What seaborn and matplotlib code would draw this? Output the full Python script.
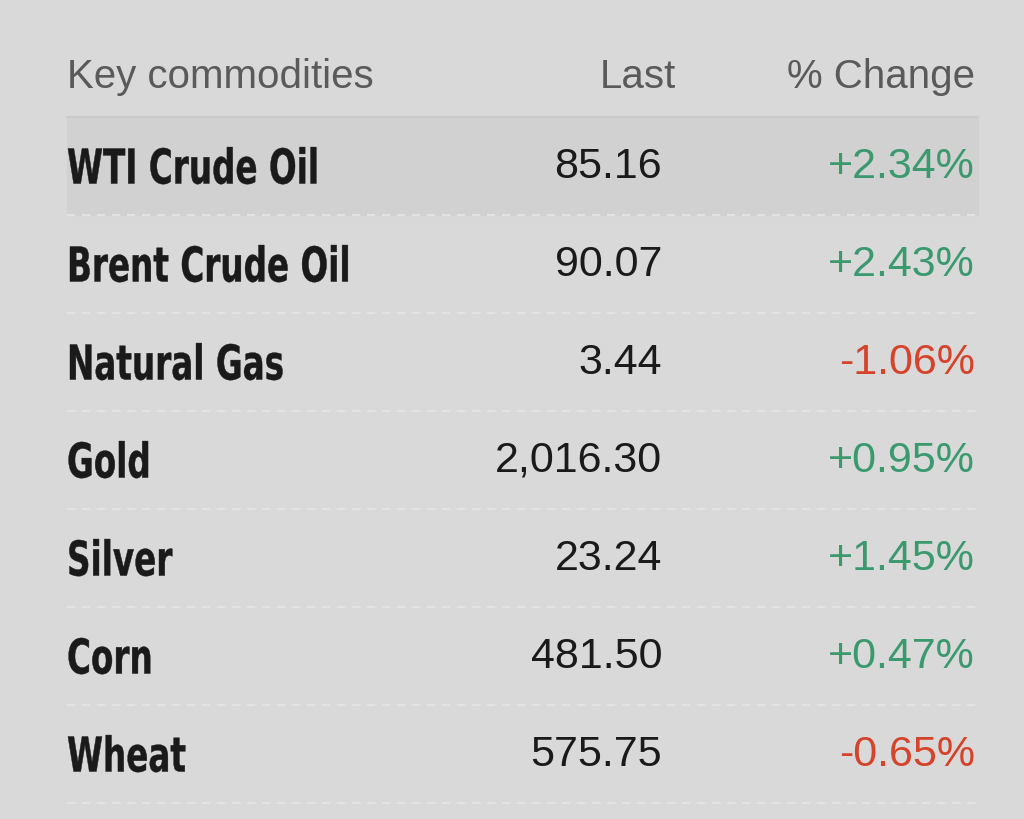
import matplotlib
matplotlib.use("Agg")
import matplotlib.pyplot as plt
import seaborn as sns
from matplotlib.textpath import TextPath
from matplotlib.patches import PathPatch
from matplotlib.font_manager import FontProperties
from matplotlib.transforms import Affine2D

# Table data
commodities = ["WTI Crude Oil", "Brent Crude Oil", "Natural Gas", "Gold", "Silver", "Corn", "Wheat"]
last_values = [85.16, 90.07, 3.44, 2016.30, 23.24, 481.50, 575.75]
pct_change = [2.34, 2.43, -1.06, 0.95, 1.45, 0.47, -0.65]
headers = ["Key commodities", "Last", "% Change"]

sns.set_theme(style="white")
plt.rcParams["font.family"] = ["Liberation Sans", "DejaVu Sans"]

bg = "#d9d9d9"
fig = plt.figure(figsize=(10.24, 8.2), dpi=100, facecolor=bg)
ax = fig.add_axes([0, 0, 1, 1])
ax.set_facecolor(bg)
ax.set_xlim(0, 1024)
ax.set_ylim(820, 0)
ax.axis("off")

left, x_last, x_chg, right = 67, 662, 975, 978
header_y, row0, step = 77, 167, 98

ax.text(left, header_y, headers[0], fontsize=29, color="#5a5a5a", va="center", ha="left")
ax.text(676, header_y, headers[1], fontsize=29, color="#5a5a5a", va="center", ha="right")
ax.text(x_chg, header_y, headers[2], fontsize=29, color="#5a5a5a", va="center", ha="right")
ax.plot([left, right], [118, 118], color="#cacaca", lw=1.5)

# highlighted first row
ax.fill_between([left, right], 119, 216, color="#d1d1d1", zorder=0)

name_prop = FontProperties(family="DejaVu Sans", weight="bold")
em = 48
for i, (n, v, c) in enumerate(zip(commodities, last_values, pct_change)):
    y = row0 + i * step
    # condensed bold label: squash a text path horizontally
    tp = TextPath((0, 0), n, size=em, prop=name_prop)
    tr = Affine2D().scale(0.68, -1).translate(left, y + 0.73 * em / 2)
    ax.add_patch(PathPatch(tr.transform_path(tp), color="#1a1a1a", lw=0.3))
    ax.text(x_last, y, f"{v:,.2f}", fontsize=31, color="#1a1a1a", va="center", ha="right")
    col = "#3a9a6e" if c >= 0 else "#d5442a"
    ax.text(x_chg, y, f"{c:+.2f}%", fontsize=31, color=col, va="center", ha="right")
    ys = y + step / 2
    ax.plot([left, right], [ys, ys], color="#e6e6e6", lw=1.2, ls=(0, (5, 4)))

fig.savefig("out.png", dpi=100, facecolor=bg)
